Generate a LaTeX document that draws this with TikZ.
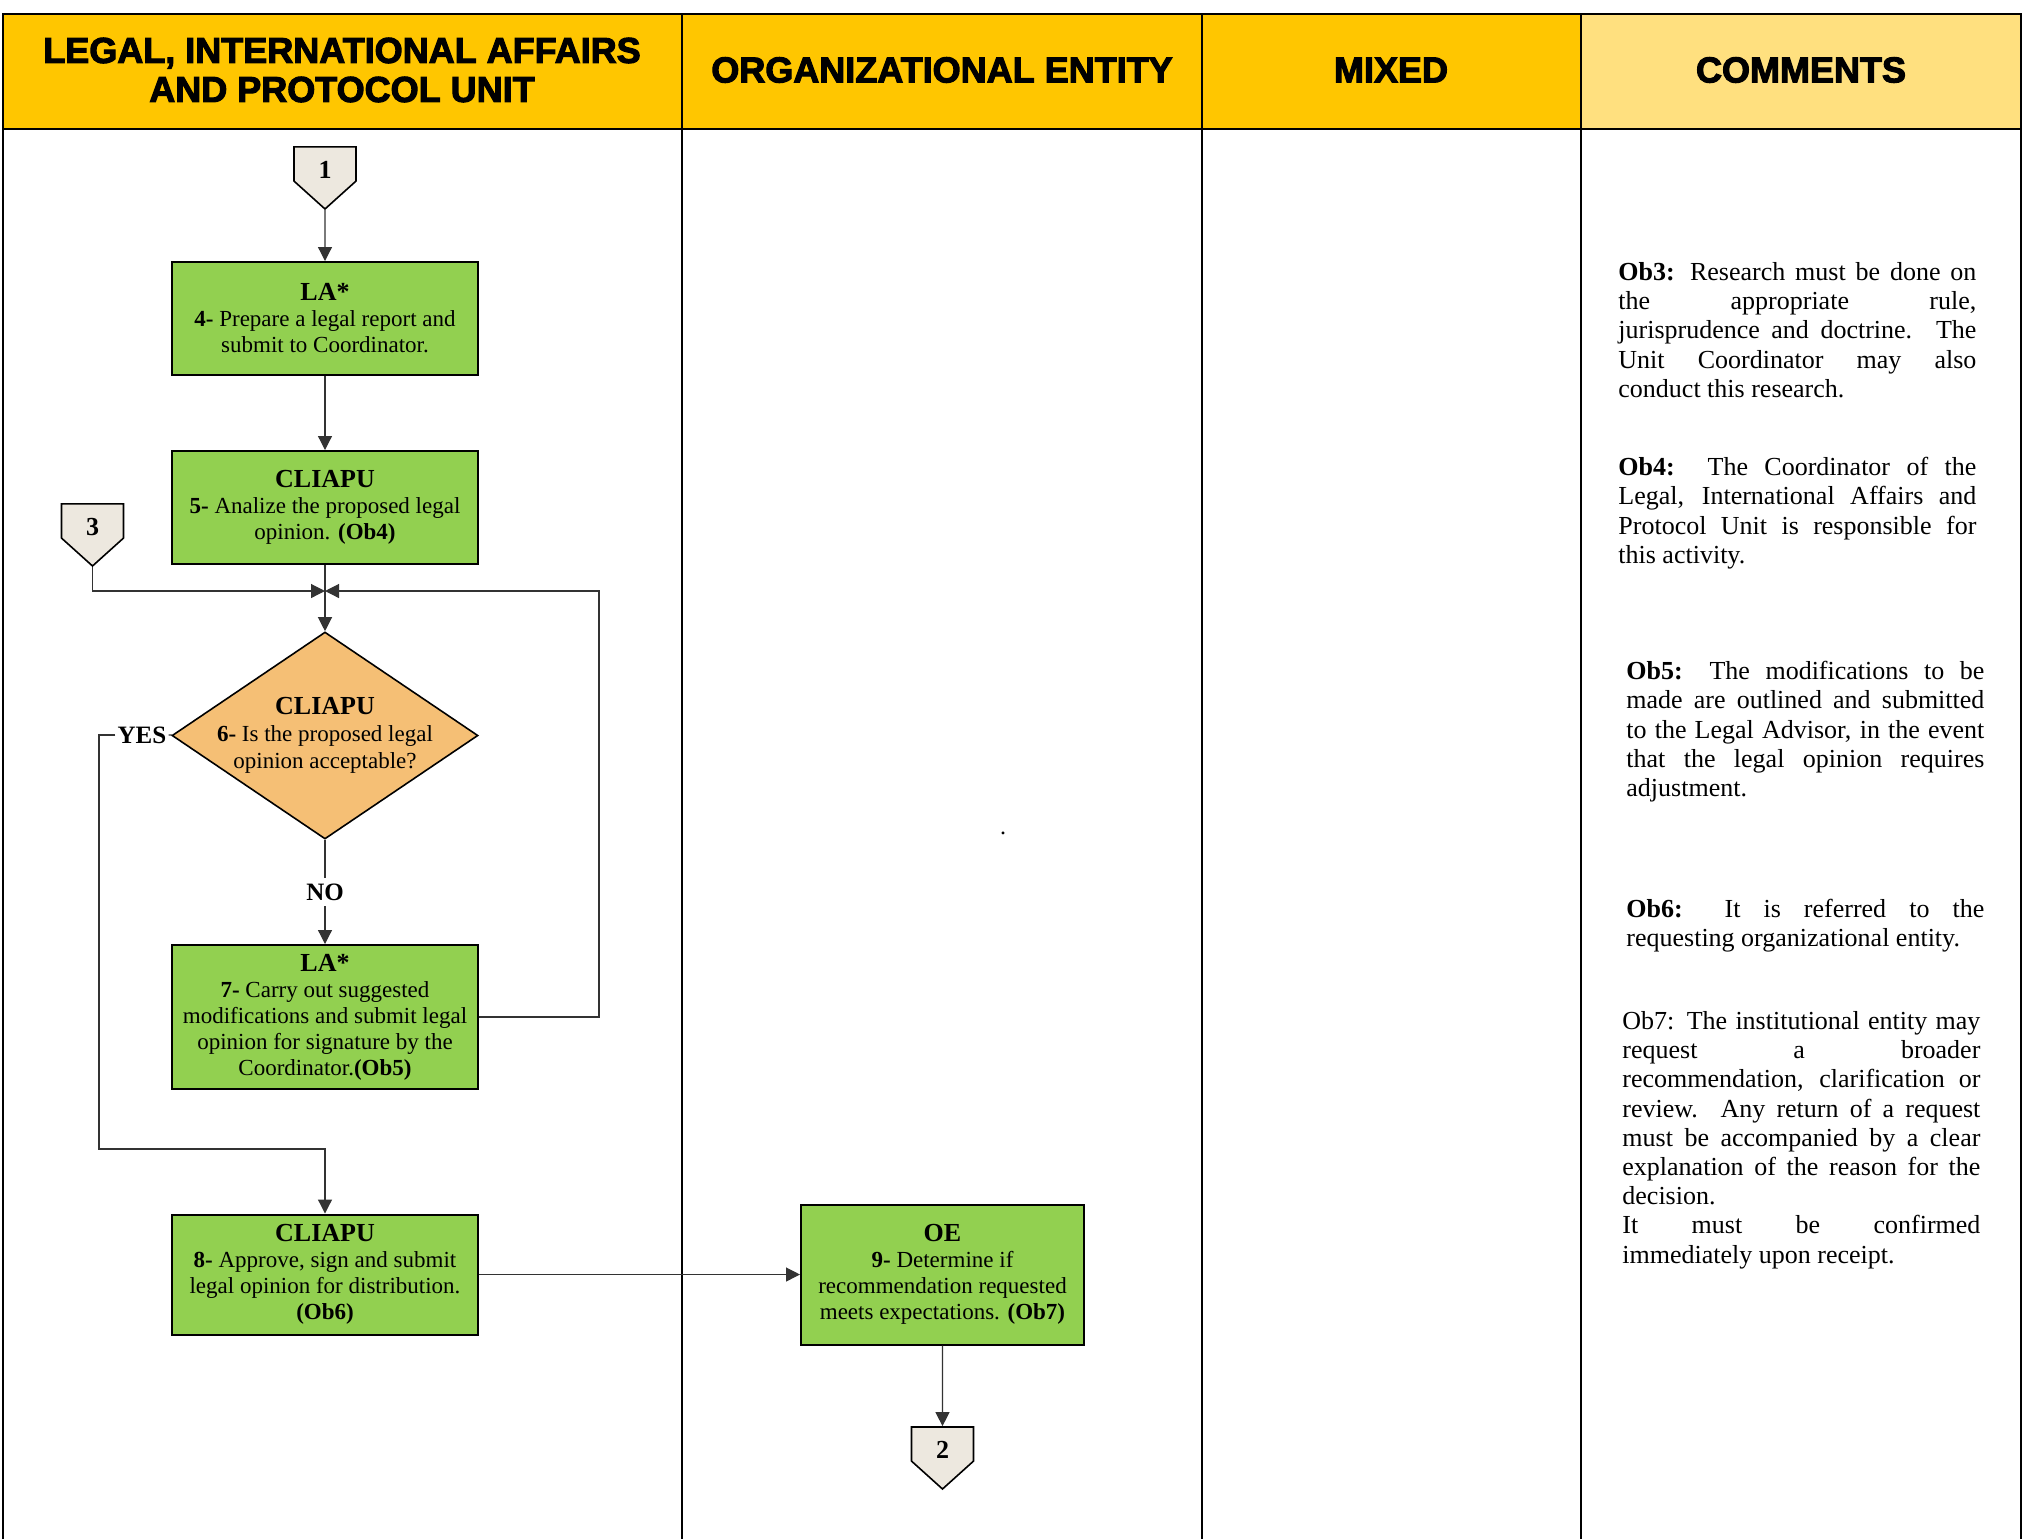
\documentclass[tikz,border=0pt]{standalone}
\usepackage{fontspec}
\setmainfont{Liberation Serif}
\newfontfamily\headfont{Liberation Sans}[BoldFeatures={FakeBold=3}]
\usetikzlibrary{arrows.meta,shapes.geometric,shapes.symbols}

\definecolor{headgold}{HTML}{FFC600}
\definecolor{headpale}{HTML}{FFE07F}
\definecolor{stepgreen}{HTML}{92D050}
\definecolor{decorange}{HTML}{F5BF75}
\definecolor{connbeige}{HTML}{EDE8DF}

\begin{document}
\begin{tikzpicture}
        [x=0.5pt,y=-0.5pt,every node/.style={inner sep=0pt},
         task/.style={draw,line width=1pt,fill=stepgreen,minimum width=153pt,align=center,font=\fontsize{11.5}{13}\selectfont},
         decision/.style={diamond,draw,line width=0.8pt,fill=decorange,minimum width=153pt,minimum height=103.5pt},
         offpage/.style={signal,signal to=south,signal pointer angle=96,draw,line width=0.8pt,fill=connbeige,minimum width=31pt,minimum height=20pt,text height=14.5pt,text depth=0pt,font=\fontsize{13}{13}\selectfont\bfseries},
         flow/.style={draw=black!80,line width=0.6pt,-{Triangle[length=7pt,width=7pt]}},
         plain/.style={draw=black!80,line width=0.6pt},
         tag/.style={font=\fontsize{12.5}{12.5}\selectfont\bfseries},
         note/.style={anchor=north west,text width=179pt,align=justify,font=\fontsize{13}{14.6}\selectfont},
         heading/.style={align=center,font=\headfont\bfseries\fontsize{18}{19.5}\selectfont}]
        \useasboundingbox (0,0) rectangle (2025,1539);

        \fill[headgold] (3,14) rectangle (1581,129);
        \fill[headpale] (1581,14) rectangle (2021,129);
        \draw[line width=1pt] (3,1539) -- (3,14) -- (2021,14) -- (2021,1539);
        \draw[line width=1pt] (3,129) -- (2021,129);
        \foreach \x in {682,1202,1581}
            \draw[line width=1pt] (\x,14) -- (\x,1539);

        \node[heading] (h1) at (342,70) {LEGAL, INTERNATIONAL AFFAIRS\\AND PROTOCOL UNIT};
        \node[heading] (h2) at (942,70) {ORGANIZATIONAL ENTITY};
        \node[heading] (h3) at (1391,70) {MIXED};
        \node[heading] (h4) at (1801,70) {COMMENTS};

        \node[offpage] (c1) at (325,164) {1};
        \node[task,minimum height=56.5pt] (la4) at (325,318.5)
            {{\fontsize{13}{13}\selectfont\bfseries LA*}\\\textbf{4-} Prepare a legal report and\\submit to Coordinator.};
        \node[task,minimum height=56.5pt] (cl5) at (325,507.5)
            {{\fontsize{13}{13}\selectfont\bfseries CLIAPU}\\\textbf{5-} Analize the proposed legal\\opinion. \textbf{(Ob4)}};
        \node[offpage] (c3) at (92.5,521) {3};
        \node[decision] (dec6) at (325,735.5) {};
        \node[align=center,font=\fontsize{11.5}{13.5}\selectfont] (q6) at (dec6)
            {{\fontsize{13}{13}\selectfont\bfseries CLIAPU}\\\textbf{6-} Is the proposed legal\\opinion acceptable?};
        \node[task,minimum height=72pt] (la7) at (325,1017)
            {{\fontsize{13}{13}\selectfont\bfseries LA*}\\\textbf{7-} Carry out suggested\\modifications and submit legal\\opinion for signature by the\\Coordinator.\textbf{(Ob5)}};
        \node[task,minimum height=60pt] (cl8) at (325,1274.5)
            {{\fontsize{13}{13}\selectfont\bfseries CLIAPU}\\\textbf{8-} Approve, sign and submit\\legal opinion for distribution.\\\textbf{(Ob6)}};
        \node[task,minimum width=141.5pt,minimum height=70pt] (oe9) at (942.5,1274.5)
            {{\fontsize{13}{13}\selectfont\bfseries OE}\\\textbf{9-} Determine if\\recommendation requested\\meets expectations. \textbf{(Ob7)}};
        \node[offpage] (c2) at (942.5,1444) {2};
        \node[tag,inner sep=1pt] (yes) at (142,735) {YES};
        \node[font=\fontsize{12}{12}\selectfont] (dot) at (1003,833) {.};

        \coordinate (join) at (325,591);
        \coordinate (rtop) at (599,591);
        \coordinate (ylow) at (99,1149);

        \draw[flow] (c1) -- (la4);
        \draw[flow] (la4) -- (cl5);
        \draw[flow] (cl5) -- (dec6);
        \draw[flow] (c3) |- (join);
        \draw[flow] (la7.east) -| (rtop) -- (join);
        \draw[flow] (dec6) -- node[tag,fill=white,inner sep=3pt] (no) {NO} (la7);
        \draw[plain] (dec6) -- (yes);
        \draw[flow] (yes) -| (ylow) -| (cl8);
        \draw[flow] (cl8) -- (oe9);
        \draw[flow] (oe9) -- (c2);

        \node[note] (ob3) at (1618,262) {\textbf{Ob3:} Research must be done on\linebreak the appropriate rule,\linebreak jurisprudence and doctrine. The\linebreak Unit Coordinator may also\linebreak conduct this research.};
        \node[note] (ob4) at (1618,457) {\textbf{Ob4:}\ \ The Coordinator of the\linebreak Legal, International Affairs and\linebreak Protocol Unit is responsible for\linebreak this activity.};
        \node[note] (ob5) at (1626,661) {\textbf{Ob5:} The modifications to be\linebreak made are outlined and submitted\linebreak to the Legal Advisor, in the event\linebreak that the legal opinion requires\linebreak adjustment.};
        \node[note] (ob6) at (1626,899) {\textbf{Ob6:} It is referred to the\linebreak requesting organizational entity.};
        \node[note] (ob7) at (1622,1011) {Ob7: The institutional entity may\linebreak request a broader\linebreak recommendation, clarification or\linebreak review. Any return of a request\linebreak must be accompanied by a clear\linebreak explanation of the reason for the\linebreak decision.\\It must be confirmed\linebreak immediately upon receipt.};
    \end{tikzpicture}
\end{document}
